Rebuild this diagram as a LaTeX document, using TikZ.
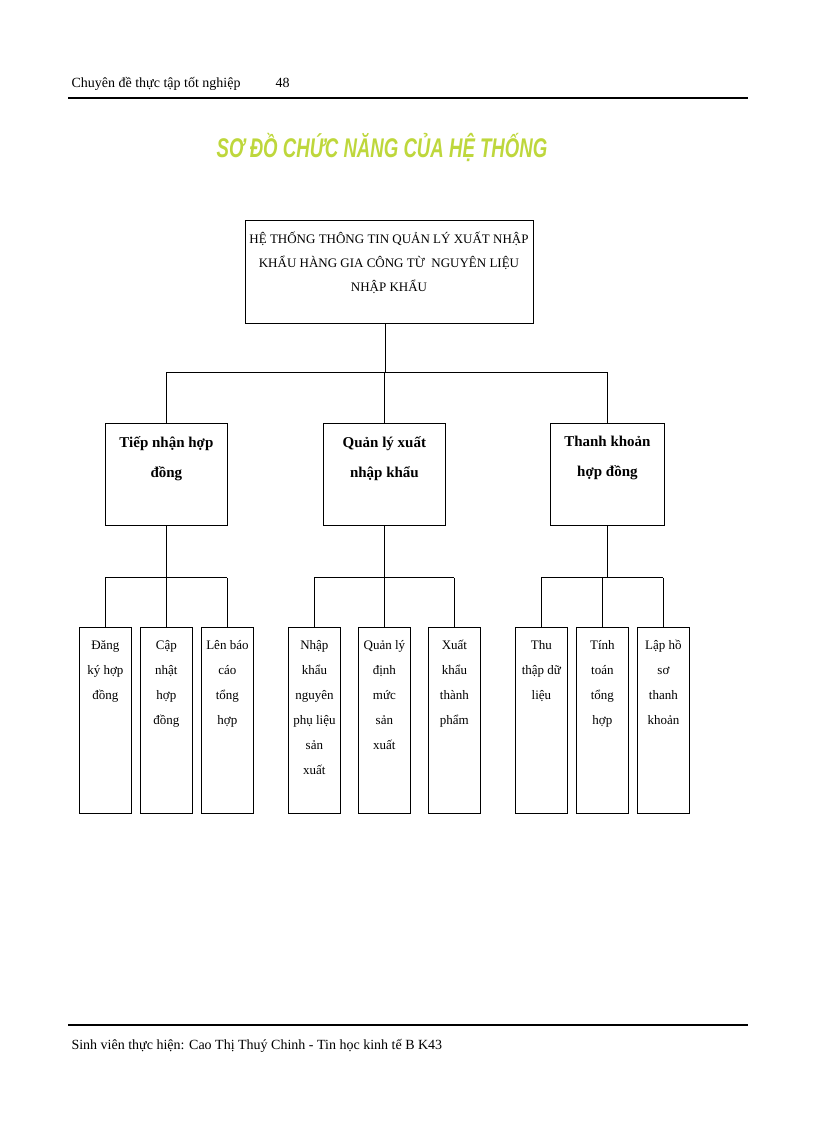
\documentclass[tikz,border=0pt]{standalone}
\usepackage{fontspec}
\setmainfont{Liberation Serif}
\newfontfamily\titlefont{Liberation Sans}
\definecolor{ttl}{RGB}{190,215,60}
\begin{document}
\begin{tikzpicture}[x=1pt,y=-1pt,
  box/.style={draw,thick,inner sep=0pt,anchor=north west},
  leaf/.style={font=\fontsize{13}{25}\selectfont,align=center,anchor=north},
  line/.style={thick}]
\useasboundingbox (0,0) rectangle (816,1123);
\node[anchor=base west,font=\fontsize{14}{16}\selectfont] (hdr) at (68,88) {Chuyên đề thực tập tốt nghiệp};
\node[anchor=base west,font=\fontsize{14}{16}\selectfont] (pg) at (272,88) {48};
\draw[line width=1.5pt] (68,98) -- (748,98);
\node[font=\titlefont\bfseries\itshape\fontsize{27}{30}\selectfont,text=ttl,xscale=0.69] (title) at (382,148) {SƠ ĐỒ CHỨC NĂNG CỦA HỆ THỐNG};
\draw[line width=1.5pt] (68,1025) -- (748,1025);
\node[anchor=base west,font=\fontsize{14}{16}\selectfont] (ftr) at (68,1049) {Sinh viên thực hiện: Cao Thị Thuý Chinh - Tin học kinh tế B K43};
% boxes
\node[box,minimum width=288pt,minimum height=103pt] (top) at (245,220) {};
\node[anchor=north,align=center,font=\fontsize{13}{24}\selectfont] (toptx) at (389,228) {HỆ THỐNG THÔNG TIN QUẢN LÝ XUẤT NHẬP\\KHẨU HÀNG GIA CÔNG TỪ \ NGUYÊN LIỆU\\NHẬP KHẨU};
\foreach \n/\x/\w/\t in {a/105/122/{Tiếp nhận hợp\\đồng},b/323/122/{Quản lý xuất\\nhập khẩu},c/550/114/{Thanh khoản\\hợp đồng}}{
  \node[box,minimum width=\w pt,minimum height=102pt] (\n) at (\x,423) {};
  \node[anchor=north,align=center,font=\bfseries\fontsize{15}{30}\selectfont] (\n t) at ([yshift=-10pt]\n.north) {\t};
}
\foreach \n/\x/\t in {a1/79/{Đăng\\ký hợp\\đồng},a2/140/{Cập\\nhật\\hợp\\đồng},a3/201/{Lên báo\\cáo\\tổng\\hợp},
  b1/288/{Nhập\\khẩu\\nguyên\\phụ liệu\\sản\\xuất},b2/358/{Quản lý\\định\\mức\\sản\\xuất},b3/428/{Xuất\\khẩu\\thành\\phẩm},
  c1/515/{Thu\\thập dữ\\liệu},c2/576/{Tính\\toán\\tổng\\hợp},c3/637/{Lập hồ\\sơ\\thanh\\khoản}}{
  \node[box,minimum width=52pt,minimum height=186pt] (\n) at (\x,627) {};
  \node[leaf] (\n t) at ([yshift=-10pt]\n.north) {\t};
}
\coordinate (h0) at (385,372);
\draw[line] (top.south -| h0) -- (h0);
\draw[line] (a.north |- h0) -- (c.north |- h0);
\foreach \n in {a,c}{\draw[line] (\n.north |- h0) -- (\n.north);}
\draw[line] (b.north |- h0) -- (b.north);
\foreach \p in {a,b,c}{
  \coordinate (\p h) at ([yshift=-52pt]\p.south);
  \draw[line] (\p.south) -- (\p h);
  \draw[line] (\p 1.north |- \p h) -- (\p 3.north |- \p h);
  \foreach \i in {1,2,3}{\draw[line] (\p\i.north |- \p h) -- (\p\i.north);}
}
\end{tikzpicture}
\end{document}
